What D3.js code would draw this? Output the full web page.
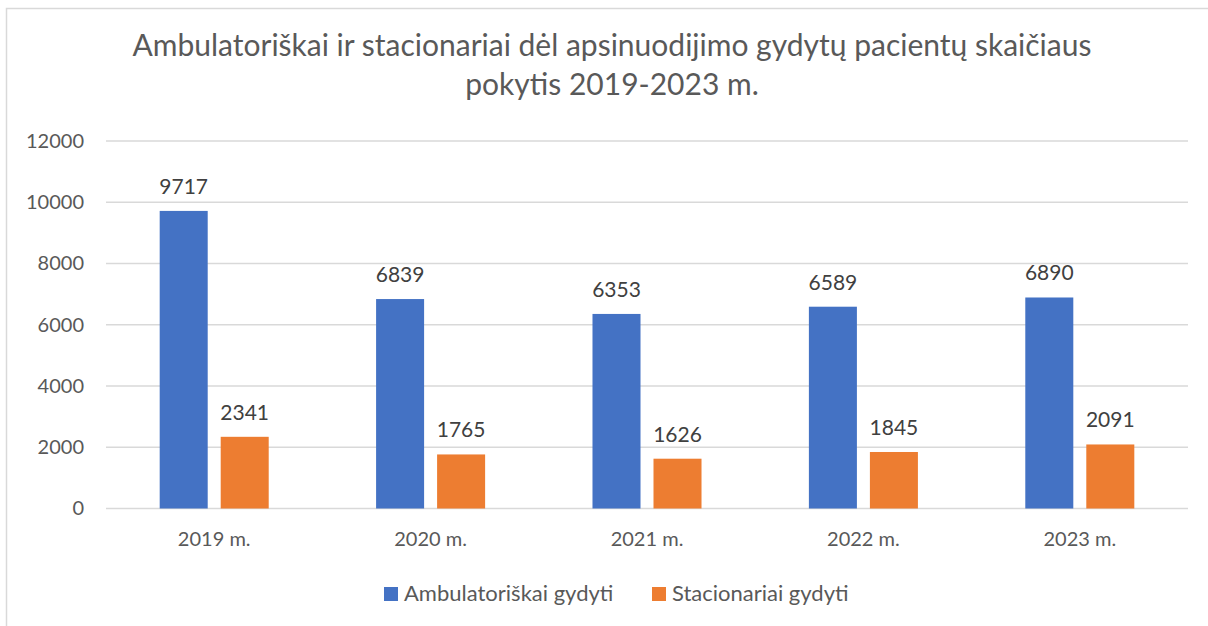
<!DOCTYPE html>
<html>
<head>
<meta charset="utf-8">
<script src="https://cdn.jsdelivr.net/npm/d3@7"></script>
<style>
  body { margin: 0; background: #fff; }
  text { font-family: Lato, "Open Sans", sans-serif; }
</style>
</head>
<body>
<div id="chart"></div>
<script>
// chart data
var years = ["2019 m.", "2020 m.", "2021 m.", "2022 m.", "2023 m."];
var ambulatoriskai = [9717, 6839, 6353, 6589, 6890];
var stacionariai = [2341, 1765, 1626, 1845, 2091];
var seriesNames = ["Ambulatoriškai gydyti", "Stacionariai gydyti"];
var yTicks = [0, 2000, 4000, 6000, 8000, 10000, 12000];
var titleLines = ["Ambulatoriškai ir stacionariai dėl apsinuodijimo gydytų pacientų skaičiaus",
                  "pokytis 2019-2023 m."];

var colors = ["#4472C4", "#ED7D31"];

var width = 1208, height = 626;
var plotLeft = 106, plotRight = 1188;

var svg = d3.select("#chart").append("svg")
    .attr("width", width)
    .attr("height", height);

// chart border
svg.append("rect")
    .attr("x", 6.5).attr("y", 8.5)
    .attr("width", width + 10).attr("height", height + 10)
    .attr("fill", "none")
    .attr("stroke", "#d9d9d9")
    .attr("stroke-width", 1.5);

// title
svg.append("g").selectAll("text")
    .data(titleLines)
    .enter().append("text")
    .attr("x", 612)
    .attr("y", function(d, i) { return 56 + i * 39; })
    .attr("text-anchor", "middle")
    .attr("fill", "#595959")
    .style("font-size", "30px")
    .text(function(d) { return d; });

var x = d3.scaleBand()
    .domain(years)
    .range([plotLeft, plotRight]);

var inner = d3.scaleBand()
    .domain([0, 1])
    .range([0, x.bandwidth()])
    .paddingInner(0.213)
    .paddingOuter(0.88);

var y = d3.scaleLinear()
    .domain([0, 12000])
    .range([508.5, 141]);

// gridlines
svg.append("g").selectAll("line")
    .data(yTicks)
    .enter().append("line")
    .attr("x1", plotLeft).attr("x2", plotRight)
    .attr("y1", function(d) { return y(d); })
    .attr("y2", function(d) { return y(d); })
    .attr("stroke", "#d9d9d9")
    .attr("stroke-width", 1.5);

// y axis labels
var yAxis = d3.axisLeft(y).tickValues(yTicks).tickFormat(d3.format("d")).tickSize(0).tickPadding(0);
var yg = svg.append("g")
    .attr("transform", "translate(84,0)")
    .call(yAxis);
yg.select(".domain").remove();
yg.selectAll("text")
    .attr("fill", "#595959")
    .style("font-size", "20px")
    .style("font-family", "Lato, sans-serif");

// x axis labels
var xAxis = d3.axisBottom(x).tickSize(0).tickPadding(0);
var xg = svg.append("g")
    .attr("transform", "translate(0,532)")
    .call(xAxis);
xg.select(".domain").remove();
xg.selectAll("text")
    .attr("fill", "#595959")
    .style("font-size", "20px")
    .style("font-family", "Lato, sans-serif");

// bars
var rows = years.map(function(yr, i) {
    return { year: yr, values: [ambulatoriskai[i], stacionariai[i]] };
});

var groups = svg.append("g").selectAll("g")
    .data(rows)
    .enter().append("g")
    .attr("transform", function(d) { return "translate(" + x(d.year) + ",0)"; });

groups.selectAll("rect")
    .data(function(d) { return d.values; })
    .enter().append("rect")
    .attr("x", function(d, i) { return inner(i); })
    .attr("width", inner.bandwidth())
    .attr("y", function(d) { return y(d); })
    .attr("height", function(d) { return y(0) - y(d); })
    .attr("fill", function(d, i) { return colors[i]; });

// data labels
groups.selectAll("text")
    .data(function(d) { return d.values; })
    .enter().append("text")
    .attr("x", function(d, i) { return inner(i) + inner.bandwidth() / 2; })
    .attr("y", function(d) { return y(d) - 17; })
    .attr("text-anchor", "middle")
    .attr("fill", "#404040")
    .style("font-size", "21px")
    .text(function(d) { return d; });

// legend
var legendX = [384, 652];
var legend = svg.append("g").selectAll("g")
    .data(seriesNames)
    .enter().append("g")
    .attr("transform", function(d, i) { return "translate(" + legendX[i] + ",587)"; });

legend.append("rect")
    .attr("width", 14).attr("height", 14)
    .attr("fill", function(d, i) { return colors[i]; });

legend.append("text")
    .attr("x", 20).attr("y", 14)
    .attr("fill", "#595959")
    .style("font-size", "22px")
    .text(function(d) { return d; });
</script>
</body>
</html>
